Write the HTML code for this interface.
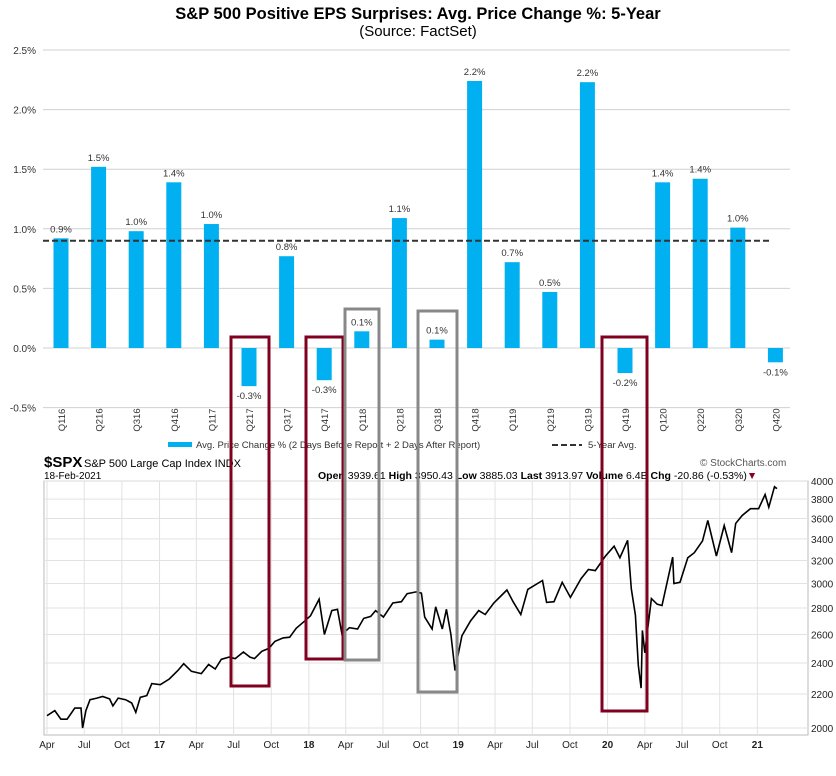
<!DOCTYPE html>
<html><head><meta charset="utf-8"><style>
body{margin:0;background:#fff;width:836px;height:771px;overflow:hidden;font-family:"Liberation Sans",sans-serif}
svg text{font-family:"Liberation Sans",sans-serif}
</style></head><body>
<svg id="c" width="836" height="771">
<text x="418" y="19" text-anchor="middle" font-size="16.5" font-weight="bold">S&amp;P 500 Positive EPS Surprises: Avg. Price Change %: 5-Year</text>
<text x="418" y="36" text-anchor="middle" font-size="15">(Source: FactSet)</text>
<g id="topg"></g>
<g id="bot"></g>
<g id="boxes"></g>
</svg>
<script>
const quarters=["Q116","Q216","Q316","Q416","Q117","Q217","Q317","Q417","Q118","Q218","Q318","Q418","Q119","Q219","Q319","Q419","Q120","Q220","Q320","Q420"];
const changes=[0.92,1.52,0.98,1.39,1.04,-0.32,0.77,-0.27,0.14,1.09,0.07,2.24,0.72,0.47,2.23,-0.21,1.39,1.42,1.01,-0.12];
const avg5=0.9;
const yTicks=[-0.5,0,0.5,1.0,1.5,2.0,2.5];
const priceDates=["2016-04-01","2016-04-20","2016-05-05","2016-05-20","2016-06-08","2016-06-23","2016-06-27","2016-07-05","2016-07-15","2016-08-01","2016-08-15","2016-09-01","2016-09-09","2016-09-22","2016-10-10","2016-10-25","2016-11-04","2016-11-15","2016-12-01","2016-12-13","2017-01-03","2017-01-25","2017-02-15","2017-03-01","2017-03-20","2017-04-13","2017-05-01","2017-05-17","2017-06-01","2017-06-20","2017-07-05","2017-07-25","2017-08-10","2017-08-21","2017-09-08","2017-09-25","2017-10-10","2017-10-30","2017-11-15","2017-12-01","2017-12-18","2018-01-05","2018-01-26","2018-02-08","2018-02-26","2018-03-12","2018-03-23","2018-04-10","2018-04-30","2018-05-15","2018-06-01","2018-06-13","2018-07-02","2018-07-25","2018-08-15","2018-08-29","2018-09-20","2018-10-03","2018-10-11","2018-10-29","2018-11-07","2018-11-23","2018-12-03","2018-12-14","2018-12-24","2019-01-10","2019-01-31","2019-02-20","2019-03-08","2019-03-29","2019-04-30","2019-05-15","2019-06-03","2019-06-20","2019-07-26","2019-08-05","2019-08-23","2019-09-12","2019-10-02","2019-10-28","2019-11-15","2019-12-02","2019-12-27","2020-01-17","2020-01-31","2020-02-19","2020-02-28","2020-03-09","2020-03-16","2020-03-23","2020-03-26","2020-04-01","2020-04-17","2020-05-01","2020-05-13","2020-06-08","2020-06-11","2020-06-26","2020-07-15","2020-07-31","2020-08-20","2020-09-02","2020-09-23","2020-10-12","2020-10-30","2020-11-09","2020-11-25","2020-12-15","2021-01-04","2021-01-20","2021-01-29","2021-02-12","2021-02-18"];
const priceClose=[2070,2100,2050,2050,2115,2115,2000,2100,2165,2175,2185,2170,2128,2175,2165,2145,2090,2180,2190,2265,2258,2295,2350,2395,2345,2330,2390,2360,2425,2440,2430,2475,2440,2430,2480,2500,2550,2575,2580,2645,2690,2740,2870,2600,2780,2790,2600,2650,2640,2720,2735,2780,2730,2840,2850,2915,2930,2920,2730,2640,2810,2640,2790,2600,2350,2590,2700,2780,2750,2840,2945,2850,2750,2950,3025,2845,2850,3010,2885,3040,3120,3110,3240,3330,3225,3386,2955,2745,2385,2237,2630,2470,2875,2830,2820,3230,3000,3010,3225,3270,3380,3580,3240,3530,3270,3550,3630,3700,3700,3850,3715,3935,3914];

const NS="http://www.w3.org/2000/svg";
function mk(p,tag,a,txt){const e=document.createElementNS(NS,tag);for(const k in a)e.setAttribute(k,a[k]);if(txt!==undefined)e.textContent=txt;p.appendChild(e);return e;}
// top chart
const topG=document.getElementById('topg');
const yT=v=>348-v*119.2;
const xT=i=>61+i*37.6;
yTicks.forEach(t=>{
 const l=mk(topG,'line',{x1:43,x2:790,y1:yT(t),y2:yT(t),stroke:'#d0d0d0','stroke-width':1});
 
 
 const tx=mk(topG,'text',{x:36,y:yT(t)+4,'text-anchor':'end','font-size':10,fill:'#333'},t.toFixed(1)+'%');
 
 
});
quarters.forEach((q,i)=>{
 const v=changes[i];const x=xT(i);
 const r=mk(topG,'rect',{x:x-7.5,y:Math.min(yT(v),yT(0)),width:15,height:Math.abs(yT(v)-yT(0)),fill:'#00b0f0'});
 
 
 const ly=v>=0?yT(v)-6:yT(v)+13;
 const lt=mk(topG,'text',{x:x,y:ly,'text-anchor':'middle','font-size':9.5,fill:'#333'},v.toFixed(1)+'%');
 
 
 const ct=mk(topG,'text',{x:0,y:0,'text-anchor':'middle','font-size':9.5,fill:'#333',transform:`translate(${x+4},${420}) rotate(-90)`},q);
 
 
});
const al=mk(topG,'line',{x1:43,x2:772,y1:yT(avg5),y2:yT(avg5),stroke:'#333','stroke-width':2,'stroke-dasharray':'6,3'});


const lg1=mk(topG,'rect',{x:168,y:442,width:24,height:5,fill:'#00b0f0'});


const lt1=mk(topG,'text',{x:196,y:448,'font-size':9.5,fill:'#333'},'Avg. Price Change % (2 Days Before Report + 2 Days After Report)');


const lg2=mk(topG,'line',{x1:552,x2:582,y1:445,y2:445,stroke:'#333','stroke-width':2,'stroke-dasharray':'6,3'});


const lt2=mk(topG,'text',{x:588,y:448,'font-size':9.5,fill:'#333'},'5-Year Avg.');



// bottom chart
const bot=document.getElementById('bot');
const t0=Date.parse("2016-04-01"),t1=Date.parse("2021-02-18");
const xB=d=>47+(Date.parse(d)-t0)/(t1-t0)*(777-47);
const yB=v=>728-Math.log(v/2000)*356.5;
mk(bot,'rect',{x:44,y:481,width:764,height:254,fill:'none',stroke:'#bbb'});
const pTicks=[2000,2200,2400,2600,2800,3000,3200,3400,3600,3800,4000];
pTicks.forEach(p=>{
 const l=mk(bot,'line',{x1:44,x2:808,y1:yB(p),y2:yB(p),stroke:'#e2e2e2'});
 
 
 const t=mk(bot,'text',{x:811,y:yB(p)+4,'font-size':10,fill:'#222'},String(p));
 
 
});
const xTickDates=["2016-04-01","2016-07-01","2016-10-01","2017-01-01","2017-04-01","2017-07-01","2017-10-01","2018-01-01","2018-04-01","2018-07-01","2018-10-01","2019-01-01","2019-04-01","2019-07-01","2019-10-01","2020-01-01","2020-04-01","2020-07-01","2020-10-01","2021-01-01"];
const xTickLabels=["Apr","Jul","Oct","17","Apr","Jul","Oct","18","Apr","Jul","Oct","19","Apr","Jul","Oct","20","Apr","Jul","Oct","21"];
xTickDates.forEach((d,i)=>{
 const x=xB(d);
 const l=mk(bot,'line',{x1:x,x2:x,y1:481,y2:735,stroke:'#e2e2e2'});
 
 
 const bold=/^\d/.test(xTickLabels[i]);
 const t=mk(bot,'text',{x:x,y:748,'text-anchor':'middle','font-size':10,'font-weight':bold?'bold':'normal',fill:'#222'},xTickLabels[i]);
 
 
});
const pl=mk(bot,'polyline',{points:priceDates.map((d,i)=>xB(d).toFixed(1)+','+yB(priceClose[i]).toFixed(1)).join(' '),fill:'none',stroke:'#000','stroke-width':1.6});


const h=[[44,467,'$SPX',15,'bold','spx-symbol'],[84,467,'S&P 500 Large Cap Index INDX',11,'normal','index-name'],[44,479,'18-Feb-2021',10,'normal','chart-date'],[700,466,'© StockCharts.com',10,'normal','stockcharts-credit']];
h.forEach(a=>{const t=mk(bot,'text',{x:a[0],y:a[1],'font-size':a[3],'font-weight':a[4],fill:a[5]=='stockcharts-credit'?'#555':'#000'},a[2]);
 
 });
const qs=mk(bot,'text',{x:318,y:479,'font-size':10.5,fill:'#000'});


qs.innerHTML='<tspan font-weight="bold">Open</tspan> 3939.61 <tspan font-weight="bold">High</tspan> 3950.43 <tspan font-weight="bold">Low</tspan> 3885.03 <tspan font-weight="bold">Last</tspan> 3913.97 <tspan font-weight="bold">Volume</tspan> 6.4B <tspan font-weight="bold">Chg</tspan> -20.86 (-0.53%)<tspan fill="#8b0020">▼</tspan>';

// highlight boxes
const boxes=document.getElementById('boxes');
[[231,337,38,349,'#800020'],[306,337,37,322,'#800020'],[345,309,34,351,'#888'],[418,311,39,381,'#888'],[602,337,45,374,'#800020']].forEach(b=>{
 const r=mk(boxes,'rect',{x:b[0],y:b[1],width:b[2],height:b[3],fill:'none',stroke:b[4],'stroke-width':3});
 
 
});
</script>
</body></html>
